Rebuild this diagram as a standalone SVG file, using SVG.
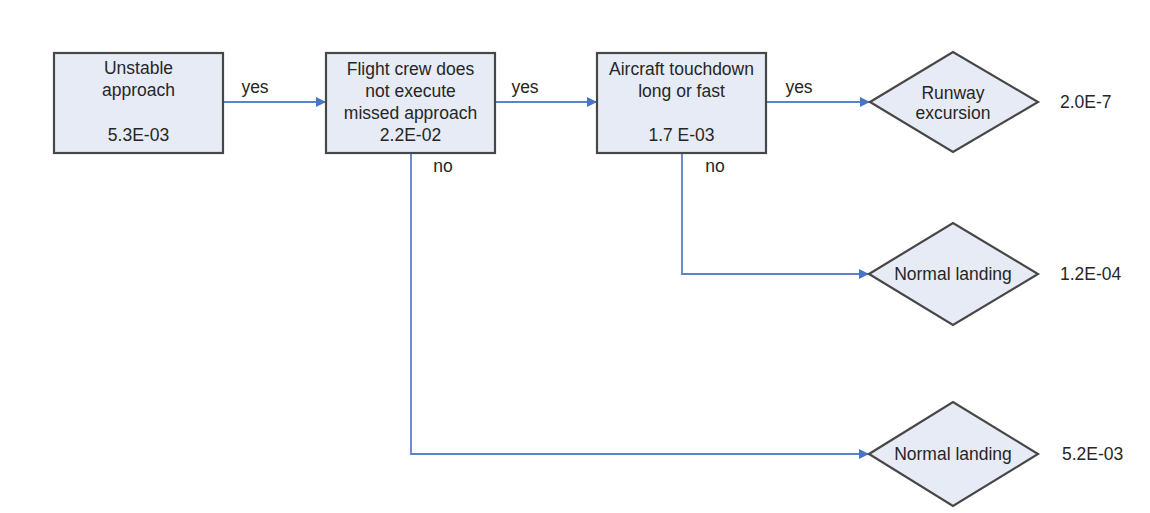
<svg xmlns="http://www.w3.org/2000/svg" width="1150" height="513" viewBox="0 0 1150 513">
  <style>
    .box { fill: #e7ebf5; stroke: #474747; stroke-width: 2.2; }
    .txt { font-family: "Liberation Sans", Arial, sans-serif; font-size: 17.5px; fill: #262626; text-anchor: middle; }
    .val { font-family: "Liberation Sans", Arial, sans-serif; font-size: 17.5px; fill: #262626; text-anchor: start; }
    .edge { fill: none; stroke: #5b82cc; stroke-width: 1.8; }
  </style>
  <defs>
    <marker id="arrow" viewBox="0 0 10 10" refX="10" refY="5" markerWidth="10" markerHeight="10" markerUnits="userSpaceOnUse" orient="auto">
      <path d="M0,0 L10,5 L0,10 z" fill="#4a74c6"/>
    </marker>
  </defs>
  <rect x="0" y="0" width="1150" height="513" fill="#ffffff"/>

  <!-- connectors -->
  <g id="connectors">
    <line class="edge" x1="223" y1="102" x2="326" y2="102" marker-end="url(#arrow)"/>
    <line class="edge" x1="495" y1="102" x2="597" y2="102" marker-end="url(#arrow)"/>
    <line class="edge" x1="766" y1="102" x2="870" y2="102" marker-end="url(#arrow)"/>
    <polyline class="edge" points="682,153 682,274 869,274" marker-end="url(#arrow)"/>
    <polyline class="edge" points="411,153 411,454 869,454" marker-end="url(#arrow)"/>
    <text class="txt" x="255" y="93">yes</text>
    <text class="txt" x="525" y="93">yes</text>
    <text class="txt" x="799" y="93">yes</text>
    <text class="txt" x="443" y="172">no</text>
    <text class="txt" x="715" y="172">no</text>
  </g>

  <!-- event boxes -->
  <g id="unstable-approach">
    <rect class="box" x="54" y="53" width="169" height="100"/>
    <text class="txt" x="138.5" y="74">Unstable</text>
    <text class="txt" x="138.5" y="96">approach</text>
    <text class="txt" x="138.5" y="141">5.3E-03</text>
  </g>
  <g id="no-missed-approach">
    <rect class="box" x="326" y="53" width="169" height="100"/>
    <text class="txt" x="410.5" y="75">Flight crew does</text>
    <text class="txt" x="410.5" y="97">not execute</text>
    <text class="txt" x="410.5" y="119">missed approach</text>
    <text class="txt" x="410.5" y="141">2.2E-02</text>
  </g>
  <g id="long-fast-touchdown">
    <rect class="box" x="597" y="53" width="169" height="100"/>
    <text class="txt" x="681.5" y="75">Aircraft touchdown</text>
    <text class="txt" x="681.5" y="97">long or fast</text>
    <text class="txt" x="681.5" y="141">1.7 E-03</text>
  </g>

  <!-- outcomes -->
  <g id="runway-excursion">
    <polygon class="box" points="870,102 953,52 1038,102 953,152"/>
    <text class="txt" x="953" y="99">Runway</text>
    <text class="txt" x="953" y="119">excursion</text>
    <text class="val" x="1060" y="108">2.0E-7</text>
  </g>
  <g id="normal-landing-1">
    <polygon class="box" points="869,274 953,223 1038,274 953,325"/>
    <text class="txt" x="953" y="280">Normal landing</text>
    <text class="val" x="1060" y="280">1.2E-04</text>
  </g>
  <g id="normal-landing-2">
    <polygon class="box" points="869,454 953,402 1038,454 953,506"/>
    <text class="txt" x="953" y="460">Normal landing</text>
    <text class="val" x="1062" y="460">5.2E-03</text>
  </g>
</svg>
